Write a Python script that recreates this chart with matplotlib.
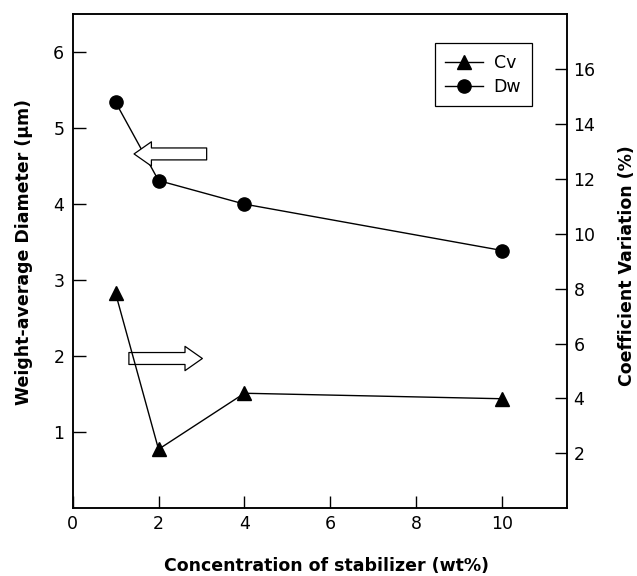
import matplotlib
matplotlib.use("Agg")
import matplotlib.pyplot as plt

plt.rcParams['font.family'] = ['DejaVu Sans']

conc = [1, 2, 4, 10]
dw = [5.34, 4.31, 4.00, 3.39]      # weight-average diameter (um), left axis
cv = [7.83, 2.15, 4.19, 3.99]      # coefficient variation (%), right axis

x_ticks = [0, 2, 4, 6, 8, 10]
left_ticks = [1, 2, 3, 4, 5, 6]
right_ticks = [2, 4, 6, 8, 10, 12, 14, 16]

fig = plt.figure(figsize=(6.37, 5.76), dpi=100)
ax = fig.add_axes([0.114, 0.1175, 0.7756, 0.8582])
ax2 = ax.twinx()

ax.set_xlim(0, 11.5)
ax.set_ylim(0, 6.5)
ax2.set_ylim(0, 18)

l_dw, = ax.plot(conc, dw, color='black', lw=1.0, marker='o', ms=9.5,
                mfc='black', mec='black', label='Dw', clip_on=False)
l_cv, = ax2.plot(conc, cv, color='black', lw=1.0, marker='^', ms=10,
                 mfc='black', mec='black', label='Cv', clip_on=False)

ax.set_xticks(x_ticks)
ax.set_yticks(left_ticks)
ax2.set_yticks(right_ticks)

for a in (ax, ax2):
    for s in a.spines.values():
        s.set_linewidth(1.1)
ax.tick_params(axis='both', direction='in', length=9, width=1.0,
               labelsize=12.5, pad=6)
ax.tick_params(axis='x', pad=5)
ax2.tick_params(axis='y', direction='in', length=9, width=1.0,
                labelsize=12.5, pad=5)

ax.set_xlabel('Concentration of stabilizer (wt%)', fontsize=12.5,
              fontweight='bold')
ax.xaxis.set_label_coords(0.513, -0.098)
ax.set_ylabel('Weight-average Diameter (\u03bcm)', fontsize=12.5,
              fontweight='bold')
ax.yaxis.set_label_coords(-0.081, 0.518)
ax2.set_ylabel('Coefficient Variation (%)', fontsize=12.5,
               fontweight='bold')
ax2.yaxis.set_label_coords(1.104, 0.49)

# hollow arrows indicating the axis each series belongs to
arrow_style = 'simple,head_length=1.25,head_width=1.75,tail_width=0.86'
ax.annotate('', xy=(1.43, 4.66), xytext=(3.12, 4.66),
            arrowprops=dict(arrowstyle=arrow_style, fc='white', ec='black',
                            lw=0.9, shrinkA=0, shrinkB=0))
ax.annotate('', xy=(3.02, 1.97), xytext=(1.31, 1.97),
            arrowprops=dict(arrowstyle=arrow_style, fc='white', ec='black',
                            lw=0.9, shrinkA=0, shrinkB=0))

leg = ax2.legend(handles=[l_cv, l_dw], loc='upper right',
                 bbox_to_anchor=(0.929, 0.9407), borderaxespad=0,
                 fontsize=12.5, fancybox=False, edgecolor='black',
                 framealpha=1, handlelength=2.2, handletextpad=0.6,
                 labelspacing=0.35, borderpad=0.6)
leg.get_frame().set_linewidth(0.9)

fig.savefig('out.png', dpi=100)
